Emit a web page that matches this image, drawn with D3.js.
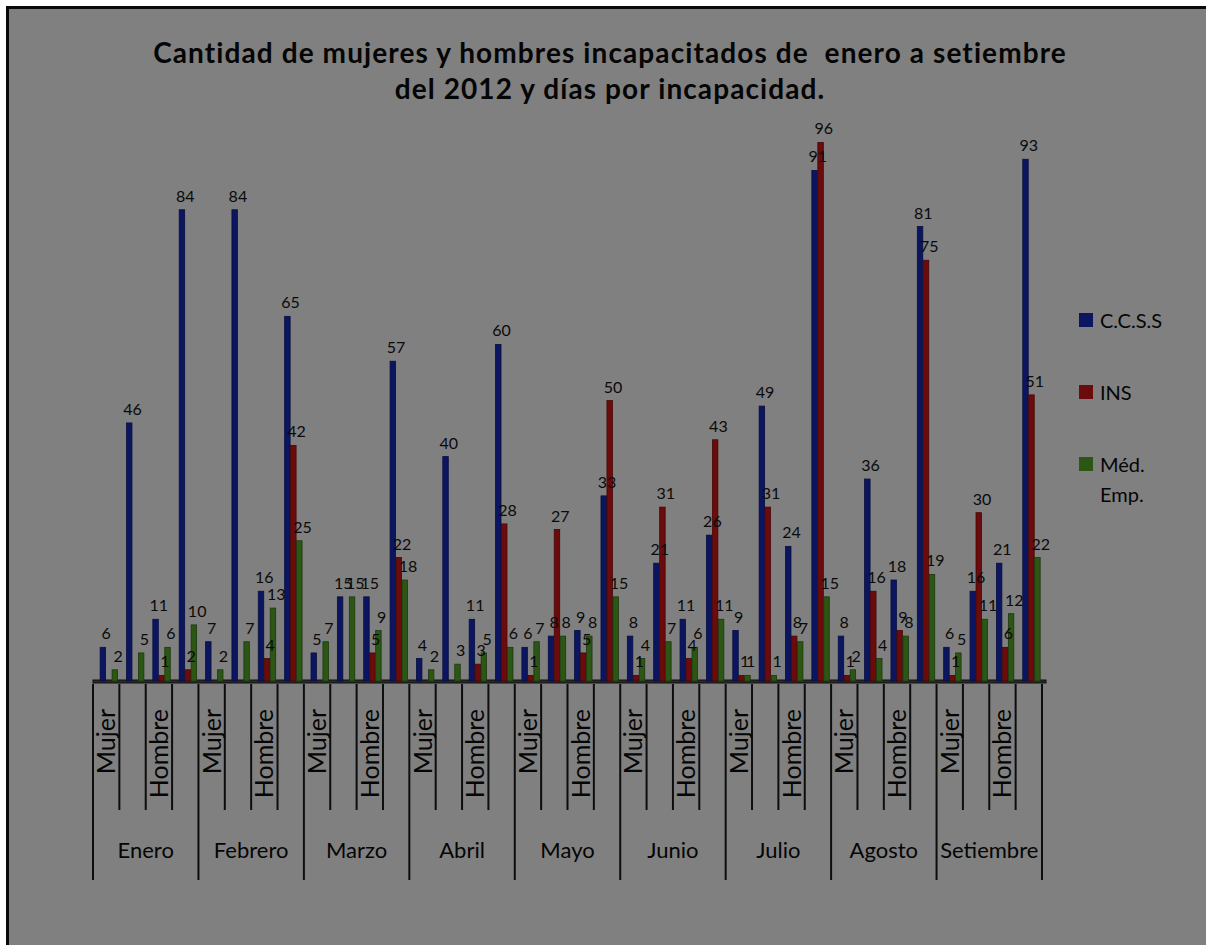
<!DOCTYPE html>
<html>
<head>
<meta charset="utf-8">
<script src="https://cdn.jsdelivr.net/npm/d3@7"></script>
<style>
  body { margin: 0; background: #fff; }
  svg { display: block; font-family: Lato, "Noto Sans", sans-serif; }
</style>
</head>
<body>
<div class="chart"></div>
<script>
const months = ["Enero", "Febrero", "Marzo", "Abril", "Mayo", "Junio", "Julio", "Agosto", "Setiembre"]
const genders = ["Mujer", "", "Hombre", ""]
const seriesNames = ["C.C.S.S", "INS", "Méd. Emp."]
const seriesColors = ["#0c1660", "#6b0b0b", "#2b5614"]

// 36 categories: month x (Mujer, Mujer días, Hombre, Hombre días)
const ccss = [6, 46, 11, 84, 7, 84, 16, 65, 5, 15, 15, 57, 4, 40, 11, 60, 6, 8, 9, 33,
  8, 21, 11, 26, 9, 49, 24, 91, 8, 36, 18, 81, 6, 16, 21, 93]
const ins = [null, null, 1, 2, null, null, 4, 42, null, null, 5, 22, null, null, 3, 28, 1, 27, 5, 50,
  1, 31, 4, 43, 1, 31, 8, 96, 1, 16, 9, 75, 1, 30, 6, 51]
const med = [2, 5, 6, 10, 2, 7, 13, 25, 7, 15, 9, 18, 2, 3, 5, 6, 7, 8, 8, 15,
  4, 7, 6, 11, 1, 1, 7, 15, 2, 4, 8, 19, 5, 11, 12, 22]

const titleLines = ["Cantidad de mujeres y hombres incapacitados de  enero a setiembre", "del 2012 y días por incapacidad."]

function drawChart() {
  const dimensions = {
    width: 1206,
    height: 945,
    margin: {
      top: 120,
      right: 164,
      bottom: 264,
      left: 93,
    },
  }
  dimensions.boundedWidth = dimensions.width
    - dimensions.margin.left
    - dimensions.margin.right
  dimensions.boundedHeight = dimensions.height
    - dimensions.margin.top
    - dimensions.margin.bottom

  const categories = d3.range(months.length * genders.length)
  const seriesValues = [ccss, ins, med]
  const dataset = categories.map(i => ({
    i,
    month: months[Math.floor(i / genders.length)],
    gender: genders[i % genders.length],
    values: seriesValues.map((s, k) => ({ k, value: s[i] })),
  }))

  const wrapper = d3.select(".chart")
    .append("svg")
    .attr("width", dimensions.width)
    .attr("height", dimensions.height)

  // background + border
  wrapper.append("rect")
    .attr("x", 7.5)
    .attr("y", 7.5)
    .attr("width", dimensions.width)
    .attr("height", dimensions.height)
    .attr("fill", "#808080")
    .attr("stroke", "#0a0a0a")
    .attr("stroke-width", 3)

  wrapper.append("g")
    .selectAll("text")
    .data(titleLines)
    .enter().append("text")
    .attr("x", 610)
    .attr("y", (d, i) => 63 + i * 36)
    .attr("text-anchor", "middle")
    .style("white-space", "pre")
    .style("font-size", "28px")
    .style("letter-spacing", "1.1px")
    .style("font-weight", "bold")
    .attr("fill", "#050505")
    .text(d => d)

  const bounds = wrapper.append("g")
    .style("transform", `translate(${
      dimensions.margin.left}px, ${
      dimensions.margin.top}px)`)

  const xScale = d3.scaleBand()
    .domain(categories)
    .range([0, dimensions.boundedWidth])

  const bw = xScale.bandwidth()
  const xSeries = d3.scaleBand()
    .domain(d3.range(seriesNames.length))
    .range([bw * 0.27, bw * 0.95])

  const yScale = d3.scaleLinear()
    .domain([0, 100])
    .range([dimensions.boundedHeight, 0])

  const monthScale = d3.scaleBand()
    .domain(months)
    .range([0, dimensions.boundedWidth])

  // floor
  bounds.append("rect")
    .attr("x", 0)
    .attr("y", dimensions.boundedHeight - 1)
    .attr("width", dimensions.boundedWidth + 4)
    .attr("height", 3)
    .attr("fill", "#2a2a2a")
    .attr("stroke", "#111")
    .attr("stroke-width", 1)

  const catGroups = bounds.selectAll(".cat")
    .data(dataset)
    .enter().append("g")
    .attr("class", "cat")
    .attr("transform", d => `translate(${xScale(d.i)},0)`)

  catGroups.selectAll("rect")
    .data(d => d.values.filter(v => v.value != null))
    .enter().append("rect")
    .attr("x", v => xSeries(v.k))
    .attr("y", v => yScale(v.value))
    .attr("width", xSeries.bandwidth() - 0.5)
    .attr("height", v => dimensions.boundedHeight - yScale(v.value))
    .attr("fill", v => seriesColors[v.k])
    .attr("stroke", v => d3.color(seriesColors[v.k]).darker(1.2))
    .attr("stroke-width", 0.8)

  catGroups.selectAll("text")
    .data(d => d.values.filter(v => v.value != null))
    .enter().append("text")
    .attr("x", v => xSeries(v.k) + xSeries.bandwidth() / 2 + 3)
    .attr("y", v => yScale(v.value) - 8)
    .attr("text-anchor", "middle")
    .style("font-size", "16px")
    .attr("fill", "#0a0a0a")
    .text(v => v.value)

  // category axis
  const axis = bounds.append("g")
    .style("transform", `translateY(${dimensions.boundedHeight + 3}px)`)

  axis.selectAll(".tick-line")
    .data(d3.range(categories.length + 1))
    .enter().append("line")
    .attr("x1", i => i * bw)
    .attr("x2", i => i * bw)
    .attr("y1", 0)
    .attr("y2", i => i % genders.length === 0 ? 196 : 126)
    .attr("stroke", "#0d0d0d")
    .attr("stroke-width", 2)

  axis.selectAll(".gender")
    .data(dataset.filter(d => d.gender))
    .enter().append("text")
    .attr("transform", d => `translate(${xScale(d.i) + bw / 2 + 9},25) rotate(-90)`)
    .attr("text-anchor", "end")
    .style("font-size", "25px")
    .attr("fill", "#050505")
    .text(d => d.gender)

  axis.selectAll(".month")
    .data(months)
    .enter().append("text")
    .attr("x", d => monthScale(d) + monthScale.bandwidth() / 2)
    .attr("y", 174)
    .attr("text-anchor", "middle")
    .style("font-size", "22px")
    .attr("fill", "#050505")
    .text(d => d)

  // legend
  const legend = wrapper.append("g")
    .attr("transform", "translate(1079, 313)")

  const legendItems = legend.selectAll("g")
    .data(seriesNames)
    .enter().append("g")
    .attr("transform", (d, i) => `translate(0, ${i * 72})`)

  legendItems.append("rect")
    .attr("width", 14)
    .attr("height", 14)
    .attr("fill", (d, i) => seriesColors[i])

  legendItems.append("text")
    .attr("x", 21)
    .attr("y", 15)
    .style("font-size", "20px")
    .attr("fill", "#050505")
    .selectAll("tspan")
    .data(d => d.split(" "))
    .enter().append("tspan")
    .attr("x", 21)
    .attr("dy", (d, i) => i === 0 ? 0 : 30)
    .text(d => d)
}

drawChart()
</script>
</body>
</html>
